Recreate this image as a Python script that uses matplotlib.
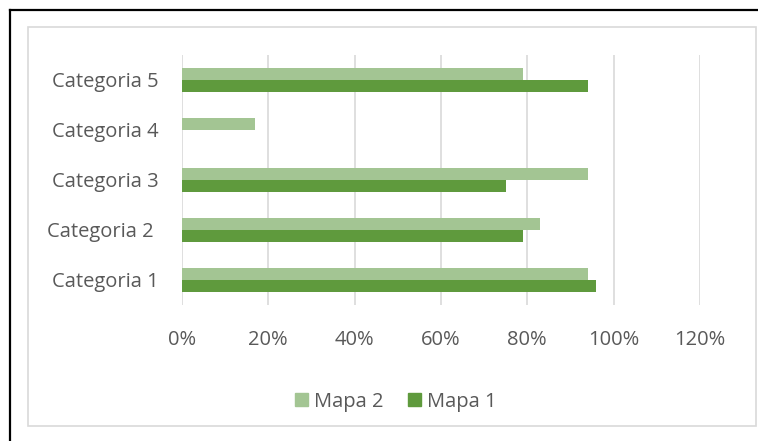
import matplotlib
matplotlib.use("Agg")
import matplotlib.pyplot as plt
from matplotlib.lines import Line2D
from matplotlib.patches import Rectangle, Patch
import matplotlib.ticker as ticker

# ── Data ──────────────────────────────────────────────────────────────────────
categories = ["Categoria 1", "Categoria 2 ", "Categoria 3", "Categoria 4", "Categoria 5"]
mapa1 = [0.96, 0.79, 0.75, 0.0, 0.94]
mapa2 = [0.94, 0.83, 0.94, 0.17, 0.79]
x_ticks = [0, 0.2, 0.4, 0.6, 0.8, 1.0, 1.2]

DARK = "#5F9A3D"
LIGHT = "#A3C593"
TEXT = "#595959"
GRID = "#D9D9D9"
FS = 14.5

plt.rcParams["font.family"] = ["Open Sans", "DejaVu Sans"]

W, H = 758, 441
fig = plt.figure(figsize=(W / 100, H / 100), dpi=100)
fig.patch.set_facecolor("white")

# ── Frames (outer black, inner chart-area border) ────────────────────────────
fig.add_artist(Line2D([10 / W, 10 / W], [0, 1 - 10 / H], color="black", lw=1.6,
                      transform=fig.transFigure))
fig.add_artist(Line2D([10 / W, 1], [1 - 10 / H, 1 - 10 / H], color="black", lw=1.6,
                      transform=fig.transFigure))
fig.add_artist(Rectangle((28 / W, 1 - 426 / H), (756 - 28) / W, (426 - 27) / H,
                         transform=fig.transFigure, fill=False, edgecolor=GRID, lw=1.2))

# ── Bars ──────────────────────────────────────────────────────────────────────
ax = fig.add_axes([181.8 / W, 136 / H, (700 - 181.8) / W, 250 / H])
pos = list(range(1, len(categories) + 1))
bh = 0.24
ax.barh([p - bh / 2 for p in pos], mapa1, height=bh, color=DARK, linewidth=0, zorder=3)
ax.barh([p + bh / 2 for p in pos], mapa2, height=bh, color=LIGHT, linewidth=0, zorder=3)

ax.set_xlim(0, 1.2)
ax.set_ylim(0.5, len(categories) + 0.5)
ax.set_xticks(x_ticks)
ax.xaxis.set_major_formatter(ticker.FuncFormatter(lambda v, _p: f"{v * 100:.0f}%"))
ax.set_yticks(pos)
ax.set_yticklabels(categories)
ax.tick_params(axis="both", length=0, labelsize=FS, colors=TEXT)
ax.tick_params(axis="y", pad=16.5)
ax.tick_params(axis="x", pad=18)
ax.grid(axis="x", color=GRID, lw=1.2, zorder=0)
for s in ax.spines.values():
    s.set_visible(False)

# ── Legend ────────────────────────────────────────────────────────────────────
handles = [Patch(facecolor=LIGHT, edgecolor=LIGHT, label="Mapa 2"),
           Patch(facecolor=DARK, edgecolor=DARK, label="Mapa 1")]
fig.legend(handles=handles, loc="center", bbox_to_anchor=(396 / W, 1 - 401.5 / H),
           ncol=2, frameon=False, fontsize=FS, labelcolor=TEXT,
           handlelength=0.65, handleheight=0.65, handletextpad=0.3, columnspacing=1.2)

fig.savefig("out.png", dpi=100)
